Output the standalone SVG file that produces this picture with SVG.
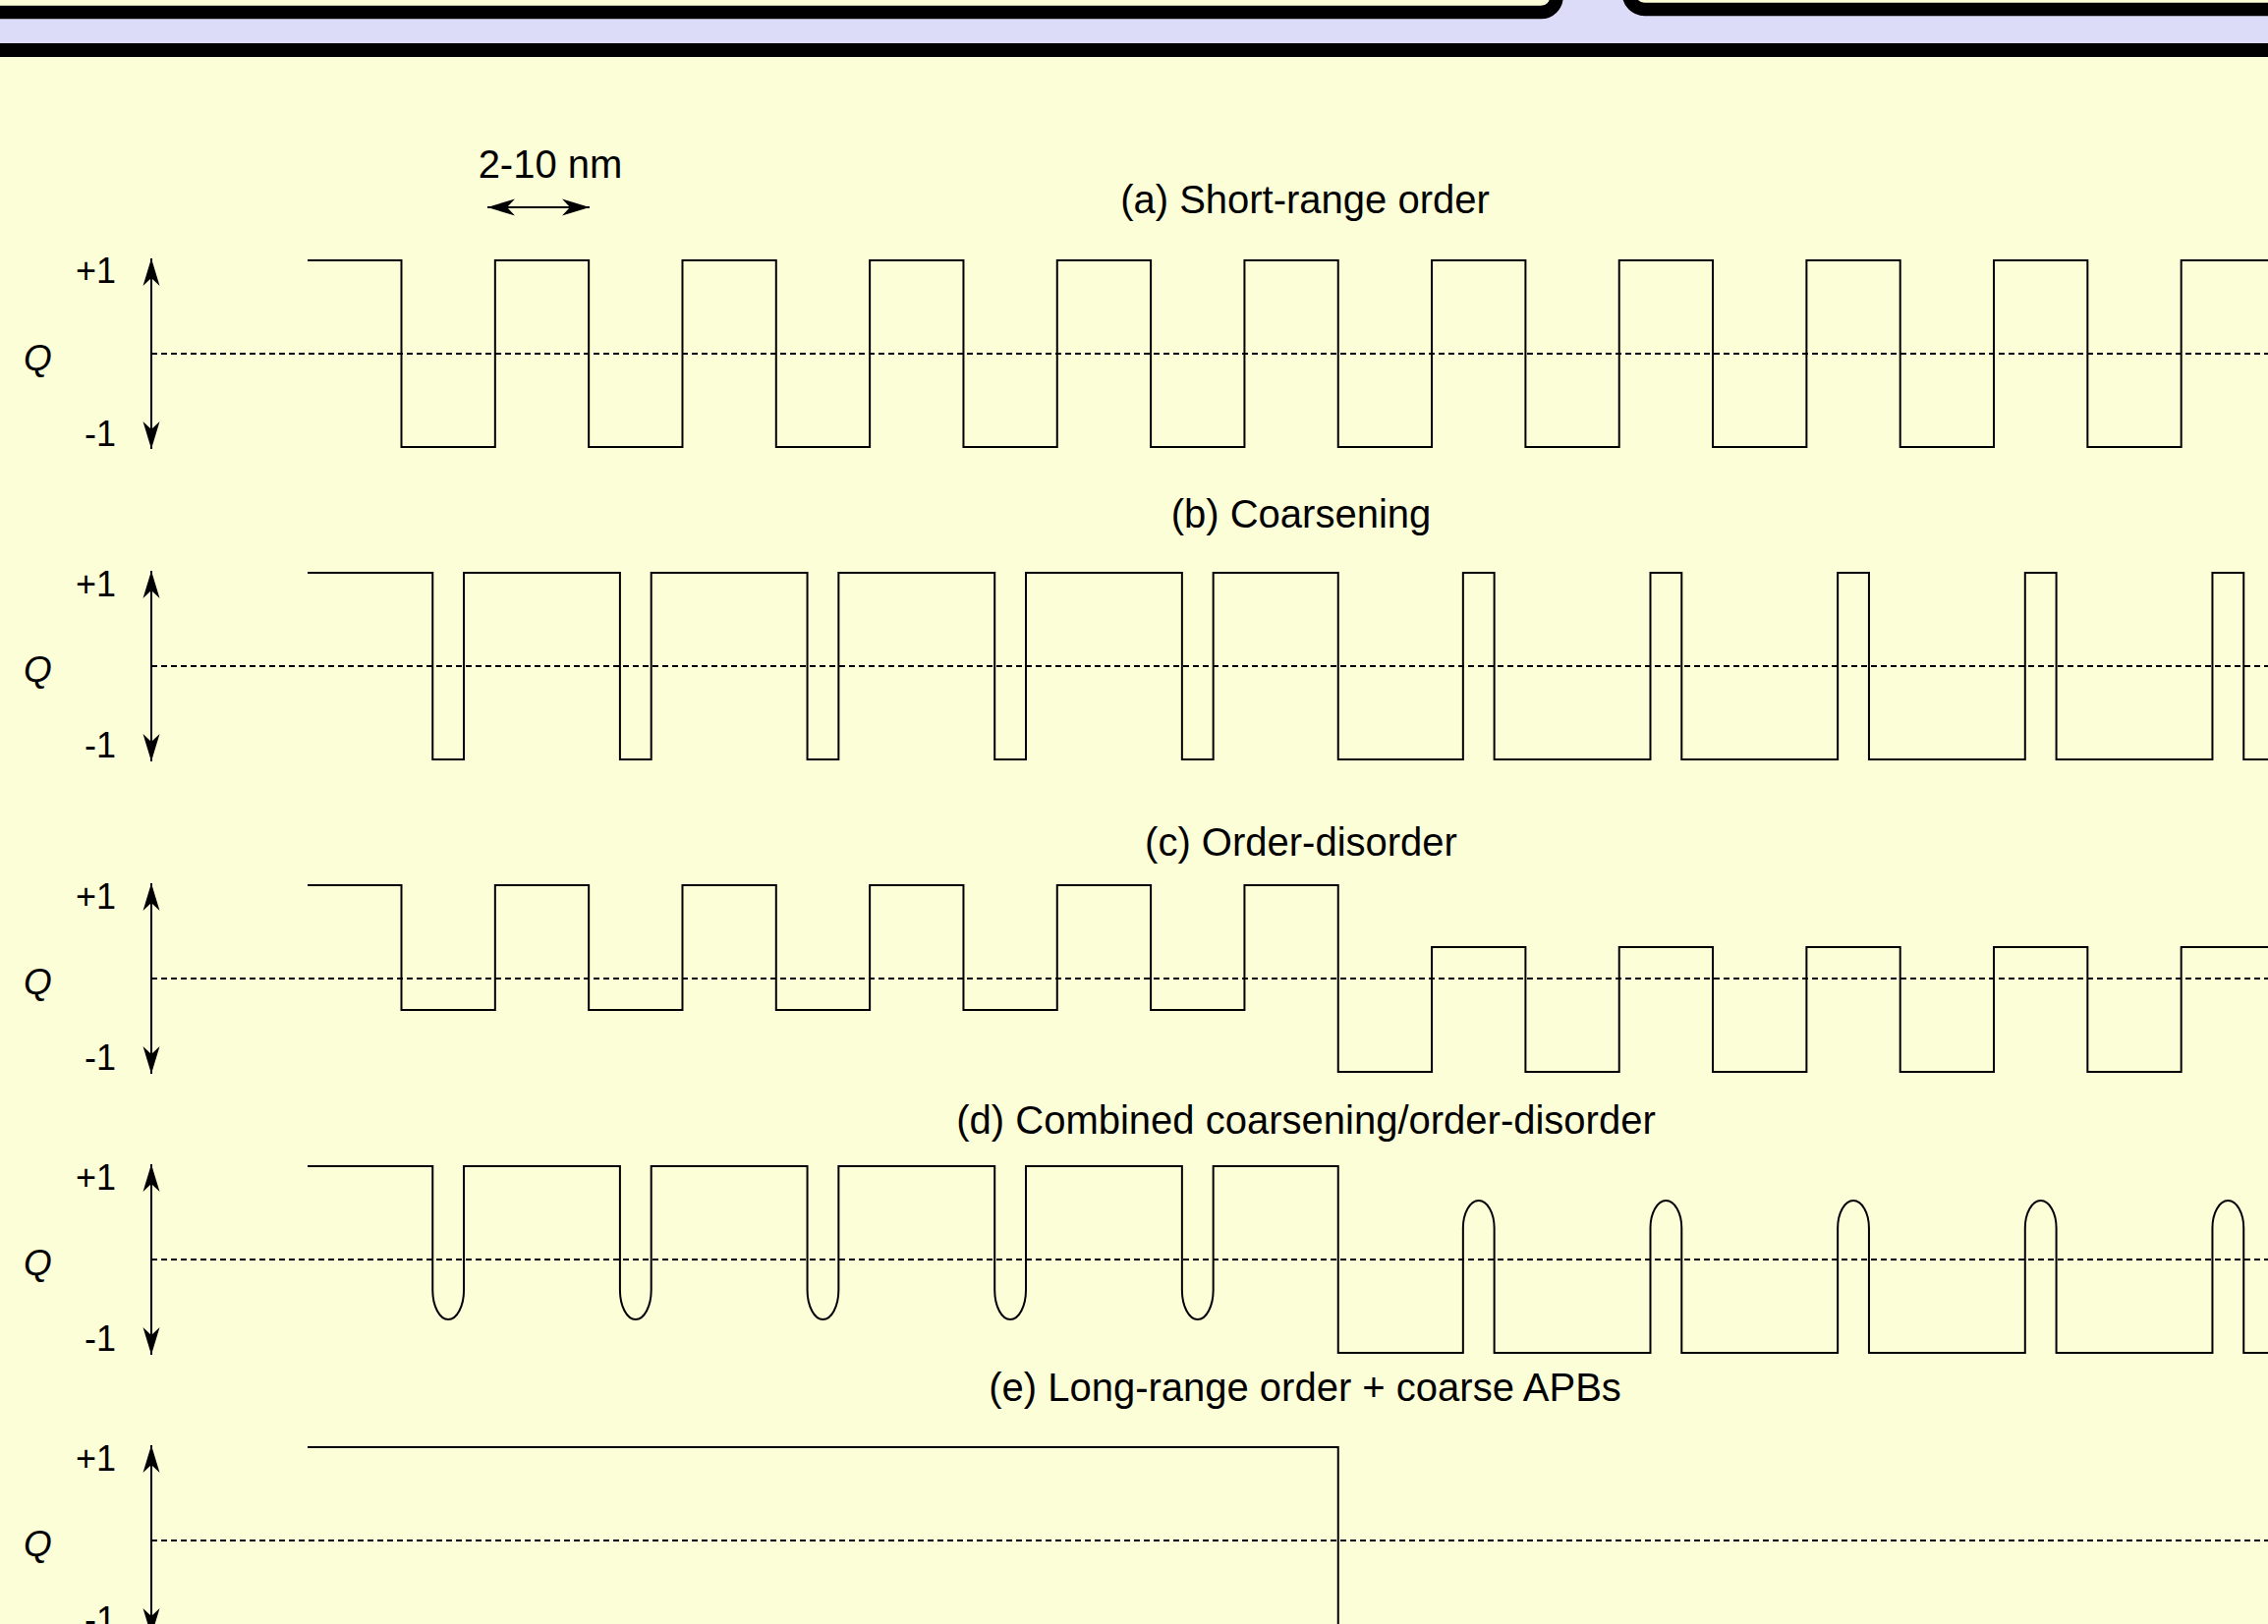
<svg xmlns="http://www.w3.org/2000/svg" width="2308" height="1653" viewBox="0 0 2308 1653">
<defs>
<style>
.bg{fill:#DCDCF8}
.panel{fill:#FCFED8;stroke:#000;stroke-width:13.5}
.wave{fill:none;stroke:#000;stroke-width:2}
.zero{fill:none;stroke:#000;stroke-width:2;stroke-dasharray:6 4}
.axis{fill:none;stroke:#000;stroke-width:2;marker-start:url(#head);marker-end:url(#head)}
.title{font-family:"Liberation Sans",Arial,Helvetica,sans-serif;font-size:40px;fill:#000;text-anchor:middle}
.lbl{font-family:"Liberation Sans",Arial,Helvetica,sans-serif;font-size:36px;fill:#000;text-anchor:end}
.q{font-family:"Liberation Sans",Arial,Helvetica,sans-serif;font-size:37px;font-style:italic;fill:#000}
</style>
<marker id="head" viewBox="-30 -10 32 20" refX="0" refY="0" markerUnits="userSpaceOnUse" markerWidth="32" markerHeight="20" orient="auto-start-reverse">
<path d="M0,0 L-28,-8.5 L-20,0 L-28,8.5 Z" fill="#000"/>
</marker>
</defs>
<rect class="bg" x="0" y="0" width="2308" height="1653"/>
<g id="top-left-panel"><rect class="panel" x="-40" y="-120" width="1624" height="132.6" rx="16"/></g>
<g id="top-right-panel"><rect class="panel" x="1657.5" y="-120" width="720" height="129.5" rx="16"/></g>
<g id="main-panel"><rect class="panel" x="-60" y="51" width="2428" height="1760" rx="16" style="stroke-width:14"/></g>

<g id="scale-bar">
<text class="title" x="560" y="181">2-10 nm</text>
</g>

<g id="panel-a">
<text class="title" x="1328" y="217">(a) Short-range order</text>
<text class="lbl" x="118" y="288">+1</text>
<text class="q" x="24" y="377">Q</text>
<text class="lbl" x="118" y="454">-1</text>
<line class="zero" x1="154" y1="360" x2="2308" y2="360"/>
<path class="wave" d="M313,265 H408.5 V455 H503.83 V265 H599.15 V455 H694.48 V265 H789.8 V455 H885.13 V265 H980.45 V455 H1075.78 V265 H1171.1 V455 H1266.43 V265 H1361.75 V455 H1457.08 V265 H1552.4 V455 H1647.73 V265 H1743.05 V455 H1838.38 V265 H1933.7 V455 H2029.03 V265 H2124.35 V455 H2219.68 V265 H2308"/>
</g>

<g id="panel-b">
<text class="title" x="1324" y="537">(b) Coarsening</text>
<text class="lbl" x="118" y="607">+1</text>
<text class="q" x="24" y="694">Q</text>
<text class="lbl" x="118" y="771">-1</text>
<line class="zero" x1="154" y1="678" x2="2308" y2="678"/>
<path class="wave" d="M313,583 H440.26 V773 H472.06 V583 H630.91 V773 H662.71 V583 H821.56 V773 H853.36 V583 H1012.21 V773 H1044.01 V583 H1202.86 V773 H1234.66 V583 H1361.75 V773 H1488.84 V583 H1520.64 V773 H1679.49 V583 H1711.29 V773 H1870.14 V583 H1901.94 V773 H2060.79 V583 H2092.59 V773 H2251.44 V583 H2283.24 V773 H2308"/>
</g>

<g id="panel-c">
<text class="title" x="1324" y="871">(c) Order-disorder</text>
<text class="lbl" x="118" y="925">+1</text>
<text class="q" x="24" y="1012">Q</text>
<text class="lbl" x="118" y="1089">-1</text>
<line class="zero" x1="154" y1="996" x2="2308" y2="996"/>
<path class="wave" d="M313,901 H408.5 V1028 H503.83 V901 H599.15 V1028 H694.48 V901 H789.8 V1028 H885.13 V901 H980.45 V1028 H1075.78 V901 H1171.1 V1028 H1266.43 V901 H1361.75 V1091 H1457.08 V964 H1552.4 V1091 H1647.73 V964 H1743.05 V1091 H1838.38 V964 H1933.7 V1091 H2029.03 V964 H2124.35 V1091 H2219.68 V964 H2308"/>
</g>

<g id="panel-d">
<text class="title" x="1329" y="1154">(d) Combined coarsening/order-disorder</text>
<text class="lbl" x="118" y="1211">+1</text>
<text class="q" x="24" y="1298">Q</text>
<text class="lbl" x="118" y="1375">-1</text>
<line class="zero" x1="154" y1="1282" x2="2308" y2="1282"/>
<path class="wave" d="M313,1187 H440.26 V1313 A15.9,30 0 0 0 472.06,1313 V1187 H630.91 V1313 A15.9,30 0 0 0 662.71,1313 V1187 H821.56 V1313 A15.9,30 0 0 0 853.36,1313 V1187 H1012.21 V1313 A15.9,30 0 0 0 1044.01,1313 V1187 H1202.86 V1313 A15.9,30 0 0 0 1234.66,1313 V1187 H1361.75 V1377 H1488.84 V1250 A15.9,28 0 0 1 1520.64,1250 V1377 H1679.49 V1250 A15.9,28 0 0 1 1711.29,1250 V1377 H1870.14 V1250 A15.9,28 0 0 1 1901.94,1250 V1377 H2060.79 V1250 A15.9,28 0 0 1 2092.59,1250 V1377 H2251.44 V1250 A15.9,28 0 0 1 2283.24,1250 V1377 H2308"/>
</g>

<g id="panel-e">
<text class="title" x="1328" y="1426">(e) Long-range order + coarse APBs</text>
<text class="lbl" x="118" y="1497">+1</text>
<text class="q" x="24" y="1584">Q</text>
<text class="lbl" x="118" y="1661">-1</text>
<line class="zero" x1="154" y1="1568" x2="2308" y2="1568"/>
<path class="wave" d="M313,1473 H1361.75 V1663 H2308"/>
</g>

<g id="connectors">
<line class="axis" x1="496" y1="211" x2="600" y2="211"/>
<line class="axis" x1="154" y1="263" x2="154" y2="457"/>
<line class="axis" x1="154" y1="581" x2="154" y2="775"/>
<line class="axis" x1="154" y1="899" x2="154" y2="1093"/>
<line class="axis" x1="154" y1="1185" x2="154" y2="1379"/>
<line class="axis" x1="154" y1="1471" x2="154" y2="1665"/>
</g>
</svg>
